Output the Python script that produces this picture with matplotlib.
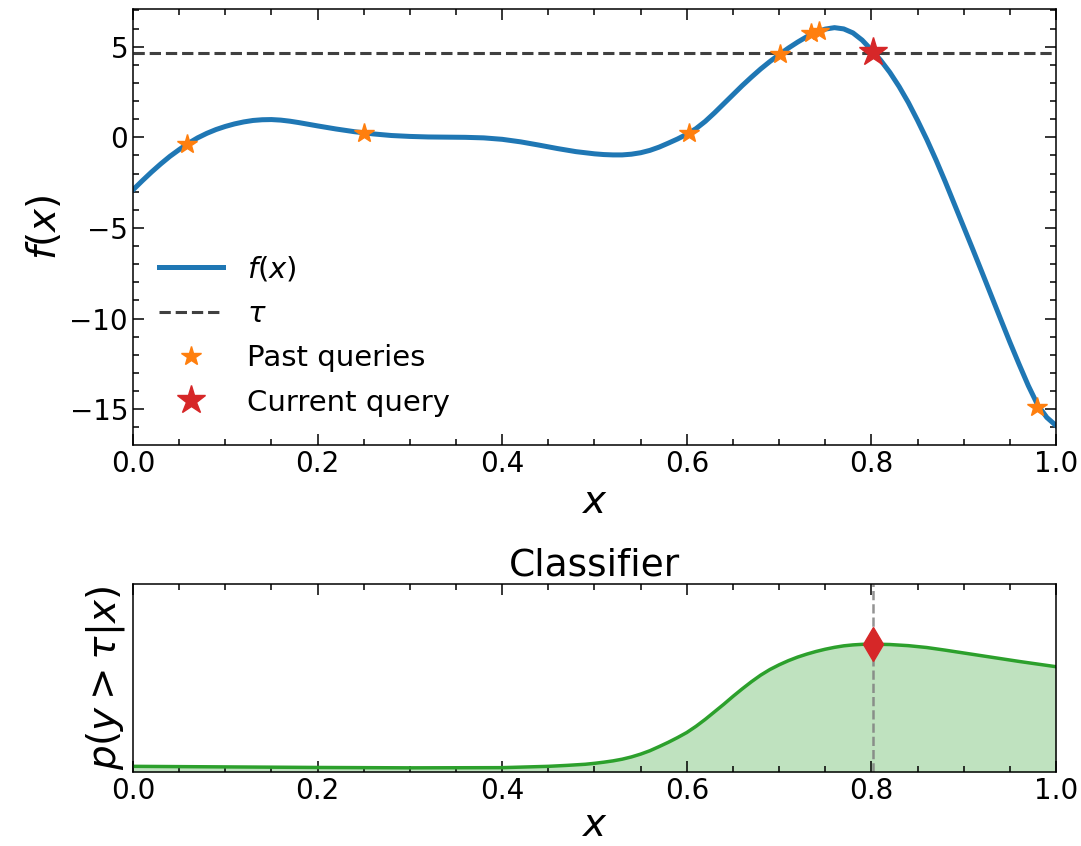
import numpy as np
import matplotlib
matplotlib.use("Agg")
import matplotlib.pyplot as plt
from matplotlib.ticker import MultipleLocator

# objective f(x)
x_f = [0.00, 0.01, 0.02, 0.03, 0.04, 0.05, 0.06, 0.07, 0.08, 0.09,
       0.10, 0.11, 0.12, 0.13, 0.14, 0.15, 0.16, 0.17, 0.18, 0.19,
       0.20, 0.22, 0.24, 0.26, 0.28, 0.30, 0.32, 0.34, 0.36, 0.38,
       0.40, 0.42, 0.44, 0.46, 0.48, 0.50, 0.51, 0.52, 0.53, 0.54,
       0.55, 0.56, 0.57, 0.58, 0.59, 0.60, 0.61, 0.62, 0.63, 0.64,
       0.65, 0.66, 0.67, 0.68, 0.69, 0.70, 0.71, 0.72, 0.73, 0.74,
       0.75, 0.76, 0.77, 0.78, 0.79, 0.80, 0.81, 0.82, 0.83, 0.84,
       0.85, 0.86, 0.87, 0.88, 0.89, 0.90, 0.91, 0.92, 0.93, 0.94,
       0.95, 0.96, 0.97, 0.98, 0.99, 1.00]
f_vals = [-2.90, -2.40, -1.92, -1.47, -1.05, -0.68, -0.33, -0.03, 0.22, 0.43,
          0.60, 0.74, 0.85, 0.93, 0.97, 0.98, 0.95, 0.89, 0.81, 0.72,
          0.63, 0.46, 0.31, 0.19, 0.10, 0.05, 0.02, 0.01, 0.00, -0.03,
          -0.11, -0.25, -0.43, -0.62, -0.79, -0.91, -0.95, -0.97, -0.97, -0.93,
          -0.85, -0.72, -0.54, -0.32, -0.09, 0.17, 0.48, 0.88, 1.35, 1.85,
          2.35, 2.85, 3.32, 3.77, 4.18, 4.56, 4.92, 5.25, 5.55, 5.80,
          5.97, 6.05, 5.98, 5.76, 5.36, 4.82, 4.25, 3.58, 2.80, 1.92,
          0.93, -0.12, -1.25, -2.45, -3.70, -4.95, -6.20, -7.47, -8.75, -10.03,
          -11.30, -12.52, -13.70, -14.75, -15.45, -15.90]

tau = 4.63

past_x = [0.059, 0.250, 0.602, 0.701, 0.735, 0.743, 0.979]
past_y = [-0.37, 0.22, 0.22, 4.58, 5.76, 5.86, -14.85]
cur_x = 0.802
cur_y = 4.72

# classifier output p(y > tau | x)
x_p = [0.00, 0.10, 0.20, 0.30, 0.40, 0.45, 0.47, 0.49, 0.50, 0.51,
       0.52, 0.53, 0.54, 0.55, 0.56, 0.57, 0.58, 0.59, 0.60, 0.61,
       0.62, 0.63, 0.64, 0.65, 0.66, 0.67, 0.68, 0.69, 0.70, 0.71,
       0.72, 0.73, 0.74, 0.75, 0.76, 0.77, 0.78, 0.79, 0.80, 0.82,
       0.84, 0.86, 0.88, 0.90, 0.92, 0.94, 0.96, 0.98, 1.00]
p_vals = [0.030, 0.027, 0.024, 0.022, 0.023, 0.030, 0.035, 0.041, 0.046, 0.052,
          0.059, 0.068, 0.080, 0.095, 0.113, 0.135, 0.158, 0.183, 0.210, 0.243,
          0.280, 0.320, 0.360, 0.402, 0.442, 0.480, 0.515, 0.545, 0.570, 0.592,
          0.611, 0.627, 0.641, 0.653, 0.663, 0.671, 0.676, 0.679, 0.680, 0.678,
          0.672, 0.662, 0.648, 0.633, 0.618, 0.603, 0.588, 0.574, 0.560]
p_cur = 0.680

plt.rcParams['font.family'] = 'DejaVu Sans'
plt.rcParams['mathtext.fontset'] = 'dejavusans'

fig = plt.figure(figsize=(10.81, 8.46), dpi=100)
ax1 = fig.add_axes([0.123, 0.474, 0.8539, 0.5154])
ax2 = fig.add_axes([0.123, 0.0875, 0.8539, 0.2222])


def style_ticks(ax):
    ax.tick_params(which='both', direction='in', top=True, right=True,
                   labelsize=20, width=1.1)
    ax.tick_params(which='major', length=8)
    ax.tick_params(which='minor', length=4.5)
    ax.xaxis.set_major_locator(MultipleLocator(0.2))
    ax.xaxis.set_minor_locator(MultipleLocator(0.05))
    for s in ax.spines.values():
        s.set_linewidth(1.1)


# top panel
ax1.plot(x_f, f_vals, color='tab:blue', lw=3.6, label='$f(x)$')
ax1.axhline(tau, color='#404040', ls='--', lw=2.2, label=r'$\tau$')
ax1.plot(past_x, past_y, '*', color='tab:orange', ms=15, ls='none',
         label='Past queries', zorder=3)
ax1.plot([cur_x], [cur_y], '*', color='tab:red', ms=21, ls='none',
         label='Current query', zorder=4)
ax1.set_xlim(0, 1)
ax1.set_ylim(-16.97, 7.08)
style_ticks(ax1)
ax1.yaxis.set_major_locator(MultipleLocator(5))
ax1.yaxis.set_minor_locator(MultipleLocator(1))
ax1.set_xlabel('$x$', fontsize=28)
ax1.set_ylabel('$f(x)$', fontsize=28)
ax1.legend(loc='lower left', bbox_to_anchor=(0.0, 0.005), frameon=False,
           fontsize=21, handlelength=2.2, labelspacing=0.56)

# bottom panel
ax2.plot(x_p, p_vals, color='tab:green', lw=2.5)
ax2.fill_between(x_p, 0, p_vals, color='tab:green', alpha=0.3, lw=0)
ax2.axvline(cur_x, color='gray', ls='--', lw=1.8, alpha=0.85)
ax2.plot([cur_x], [p_cur], 'd', color='tab:red', ms=17, zorder=4)
ax2.set_xlim(0, 1)
ax2.set_ylim(0, 1)
style_ticks(ax2)
ax2.set_yticks([])
ax2.tick_params(which='both', left=False, right=False)
ax2.set_title('Classifier', fontsize=27)
ax2.set_xlabel('$x$', fontsize=28, labelpad=1)
ax2.set_ylabel(r'$p(y>\tau|x)$', fontsize=28)

fig.savefig('out.png', dpi=100)
